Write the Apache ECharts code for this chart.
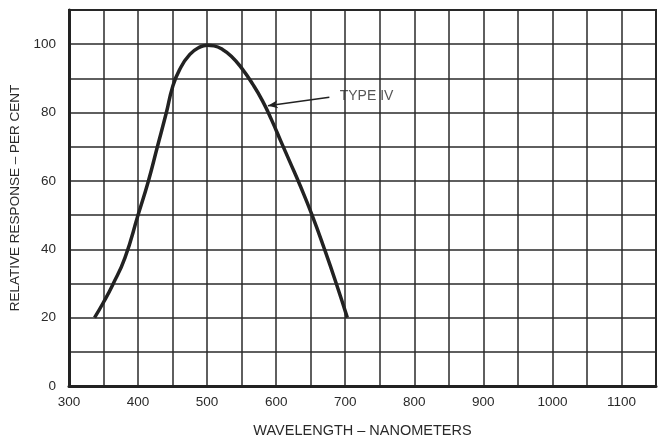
<!DOCTYPE html>
<html>
<head>
<meta charset="utf-8">
<script src="https://cdn.jsdelivr.net/npm/echarts@6/dist/echarts.min.js"></script>
<style>
  html, body { margin: 0; padding: 0; background: #fff; }
  #main { width: 658px; height: 437px; }
</style>
</head>
<body>
<div id="main"></div>
<script>
// wavelength (nm) / relative response (%)
var wavelength = [337, 350, 363, 381, 400, 415, 428, 441, 450, 460, 475, 490, 500, 510, 522, 535, 550, 566, 580, 593, 607, 620, 635, 652, 670, 687, 703];
var response   = [20, 24.5, 29.5, 37.5, 50, 60, 70, 80, 87.5, 92.5, 97, 99.2, 99.7, 99.5, 98.5, 96.5, 93, 88.3, 83.5, 78, 71.5, 65.5, 58.5, 50, 40, 30, 20];

var curveName = 'TYPE IV';
var arrowFrom = [677, 84.5];
var arrowTo = [588, 82];
var labelAt = [692, 84.8];

var pts = [];
for (var i = 0; i < wavelength.length; i++) {
    pts.push([wavelength[i], response[i]]);
}

var myChart = echarts.init(document.getElementById('main'));
var font = '"Liberation Sans", Arial, sans-serif';

var option = {
    backgroundColor: '#fff',
    animation: false,
    grid: {
        left: 69, right: 2, top: 10, bottom: 51,
        outerBoundsMode: 'none',
        containLabel: false,
        show: true,
        borderColor: '#222',
        borderWidth: 2
    },
    xAxis: {
        type: 'value',
        min: 300,
        max: 1150,
        interval: 50,
        name: 'WAVELENGTH \u2013 NANOMETERS',
        nameLocation: 'middle',
        nameGap: 37,
        nameTextStyle: { fontFamily: font, fontSize: 14.5, color: '#2a2a2a', letterSpacing: 1 },
        axisLine: { show: true, lineStyle: { color: '#222', width: 3 } },
        axisTick: { show: false },
        axisLabel: {
            fontFamily: font, fontSize: 13.5, color: '#2a2a2a', margin: 9,
            formatter: function (v) { return v % 100 === 0 ? String(v) : ''; }
        },
        splitLine: { show: true, lineStyle: { color: '#2a2a2a', width: 1.5 } }
    },
    yAxis: {
        type: 'value',
        min: 0,
        max: 110,
        interval: 10,
        name: 'RELATIVE RESPONSE \u2013 PER CENT',
        nameLocation: 'middle',
        nameGap: 42,
        nameTextStyle: { fontFamily: font, fontSize: 13.5, color: '#2a2a2a', letterSpacing: 1 },
        axisLine: { show: true, lineStyle: { color: '#222', width: 3 } },
        axisTick: { show: false },
        axisLabel: {
            fontFamily: font, fontSize: 13.5, color: '#2a2a2a', margin: 13,
            formatter: function (v) { return v % 20 === 0 ? String(v) : ''; }
        },
        splitLine: { show: true, lineStyle: { color: '#2a2a2a', width: 1.5 } }
    },
    series: [
        {
            type: 'line',
            data: pts,
            smooth: 0.5,
            showSymbol: false,
            lineStyle: { color: '#222', width: 3.5 },
            markLine: {
                silent: true,
                symbol: ['none', 'arrow'],
                symbolSize: [6, 10],
                lineStyle: { color: '#222', width: 1.5, type: 'solid' },
                label: { show: false },
                data: [[{ coord: arrowFrom }, { coord: arrowTo }]]
            }
        },
        {
            type: 'scatter',
            data: [labelAt],
            symbolSize: 0,
            label: {
                show: true,
                position: 'right',
                distance: 0,
                formatter: curveName,
                fontFamily: font,
                fontSize: 14,
                color: '#2a2a2a',
                letterSpacing: 1.2
            }
        }
    ]
};

myChart.setOption(option);
</script>
</body>
</html>
